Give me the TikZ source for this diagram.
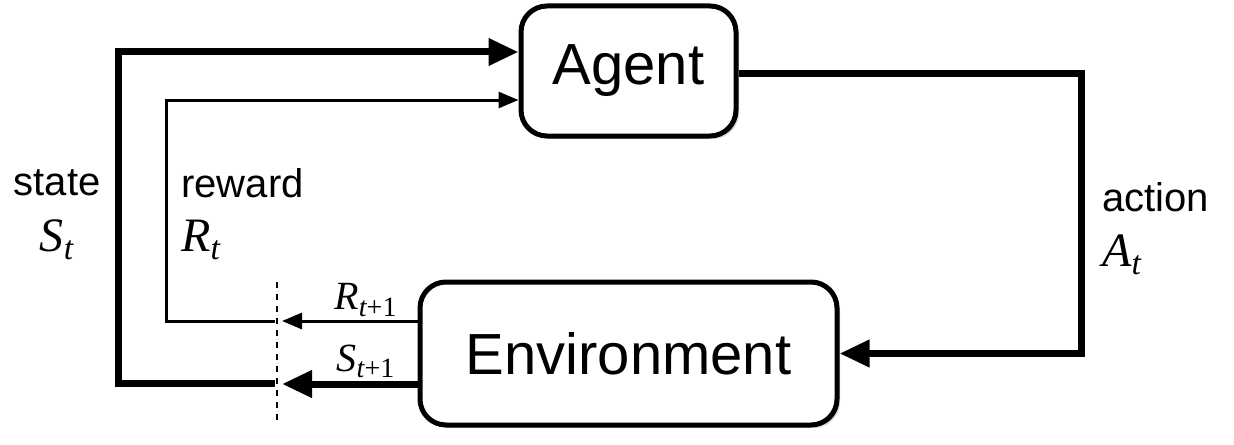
\documentclass[tikz,border=0pt]{standalone}
\usepackage{fontspec}
\setmainfont{Liberation Sans}
\newfontfamily\tms{Liberation Serif}
\usetikzlibrary{arrows.meta,positioning,shadows}
\newcommand{\sig}[3]{{\tms\itshape #1\textsubscript{#2\upshape#3}}}

\begin{document}
\begin{tikzpicture}[
  x=0.5pt,y=-0.5pt,
  box/.style={draw,line width=2.5pt,rounded corners=13pt,fill=white,
    font=\fontsize{29}{32}\selectfont,
    drop shadow={opacity=0.3,shadow xshift=1.5pt,shadow yshift=-1.5pt}},
  lbl/.style={font=\fontsize{20}{22}\selectfont,inner sep=0pt},
  var/.style={font=\fontsize{24}{26}\selectfont,inner sep=0pt},
  varsm/.style={font=\fontsize{20}{22}\selectfont,inner sep=0pt},
  heavy/.style={line width=3.5pt},
  light/.style={line width=1.5pt},
  heavytip/.style={heavy,-{Triangle[length=15pt,width=13pt]}},
  lighttip/.style={light,-{Triangle[length=10pt,width=8pt]}}
]
  \useasboundingbox (0,0) rectangle (1234,444);
  % boxes
  \node[box,minimum width=107.5pt,minimum height=65pt] (agent) at (628.5,71) {Agent};
  \node[box,minimum width=208.5pt,minimum height=71.5pt] (env) at (628.5,353.5) {Environment};
  % cut line
  \coordinate (cuttop) at (277,282);
  \coordinate (cutbot) at (277,425);
  \draw[dashed,line width=0.8pt] (cuttop) -- (cutbot);
  \coordinate (rtip) at (282,321);
  \coordinate (stip) at (282,384);
  \coordinate (rback) at (275,321);
  \coordinate (sback) at (275,383);
  % action
  \draw[heavytip] ([yshift=-1.5pt]agent.east) -- ++(343,0) |- (env.east);
  % next reward, next state
  \draw[lighttip] ([yshift=16.25pt]env.west) -- (rtip);
  \draw[heavytip] ([yshift=-15.25pt]env.west) -- (stip);
  % reward, state back to agent
  \draw[lighttip] (rback) -| (166,100) -- ([yshift=-14.5pt]agent.west);
  \draw[heavytip] (sback) -| (118,52) -- ([yshift=9.5pt]agent.west);
  % labels
  \node[lbl] (lstate) at (57,183) {state};
  \node[var] (vstate) at (57,240) {\sig{S}{t}{}};
  \node[lbl,anchor=west] (lreward) at (181,183) {reward};
  \node[var,anchor=west] (vreward) at (181,240) {\sig{R}{t}{}};
  \node[lbl,anchor=west] (laction) at (1102,197) {action};
  \node[var,anchor=west] (vaction) at (1102,255) {\sig{A}{t}{}};
  \node[varsm] (vrnext) at (366,300) {\sig{R}{t}{+1}};
  \node[varsm] (vsnext) at (366,361) {\sig{S}{t}{+1}};
\end{tikzpicture}
\end{document}
